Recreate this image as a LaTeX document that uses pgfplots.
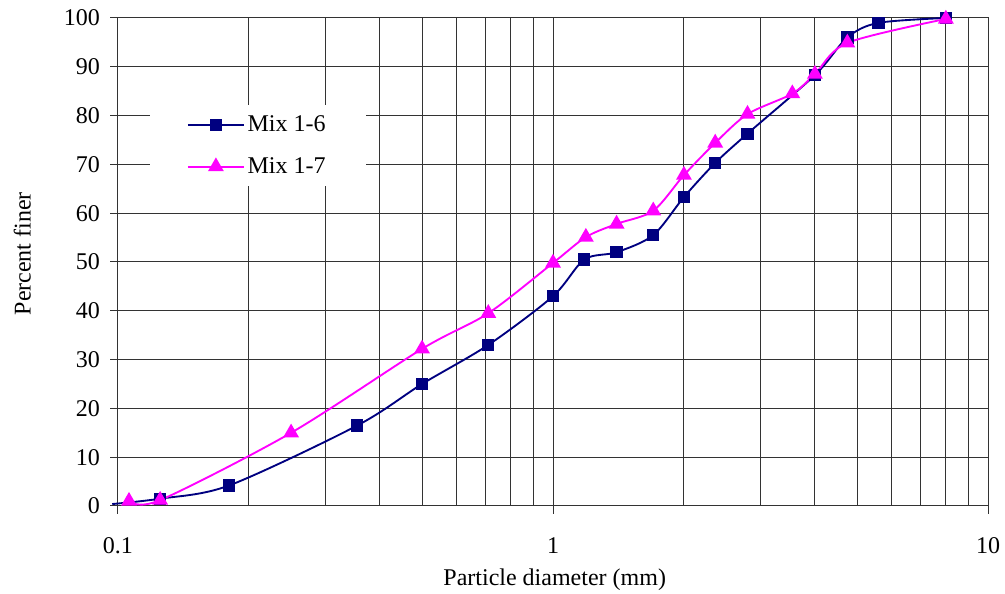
\documentclass[border=0pt]{standalone}
\usepackage{fontspec}
\setmainfont{Liberation Serif}
\usepackage{pgfplots}
\pgfplotsset{compat=1.18}
\definecolor{navyc}{HTML}{000080}
\definecolor{magc}{HTML}{FF00FF}
\begin{document}
\begin{tikzpicture}
\begin{axis}[
  scale only axis,
  width=652.5pt, height=366pt,
  xmode=log, xmin=0.1, xmax=10, ymin=0, ymax=100,
  xtick={0.1,1,10}, xticklabels={0.1,1,10},
  ytick={0,10,...,100},
  /pgf/number format/assume math mode=true,
  font=\fontsize{18}{21}\selectfont,
  tick label style={font=\fontsize{18}{21}\selectfont},
  xmajorgrids, xminorgrids, ymajorgrids,
  major grid style={black!80, line width=0.75pt},
  minor grid style={black!80, line width=0.75pt},
  axis line style={black!80, line width=0.75pt},
  tick style={black!80, line width=0.75pt},
  tick align=outside,
  major tick length=6pt, minor tick length=0pt,
  xtick pos=bottom, ytick pos=left,
  xticklabel style={yshift=-14pt},
  yticklabel style={xshift=-4pt},
  xlabel={Particle diameter (mm)},
  ylabel={Percent finer},
  xlabel style={at={(axis description cs:0.502,-0.152)}, anchor=center},
  ylabel style={at={(axis description cs:-0.110,0.517)}, anchor=center},
  clip=false,
  legend style={at={(rel axis cs:0.036,0.822)}, anchor=north west, draw=none, fill=white,
    inner xsep=28pt, inner ysep=6pt, row sep=14pt, font=\fontsize{18}{21}\selectfont},
  legend cell align=left,
  legend image code/.code={\draw[mark indices={2}] plot coordinates {(0cm,0cm)(0.74cm,0cm)(1.48cm,0cm)};},
]
\addplot[navyc, line width=1.4pt, smooth, tension=0.5, mark=square*, mark size=3.9pt,
  mark indices={2,...,17}, mark options={solid}] coordinates {
(0.097,0.4) (0.125,1.5) (0.18,4.2) (0.355,16.5) (0.5,25) (0.71,33) (1.0,43)
(1.18,50.5) (1.4,52) (1.7,55.5) (2.0,63.3) (2.36,70.3) (2.8,76.3) (4.0,88.3)
(4.75,96) (5.6,99) (8,100)};
\addlegendentry{Mix 1-6}
\addplot[magc, line width=1.4pt, smooth, tension=0.5, mark=triangle*, mark size=5.5pt,
  mark options={solid}] coordinates {
(0.106,1.0) (0.125,1.2) (0.25,15) (0.5,32.2) (0.71,39.5) (1.0,49.8) (1.19,55.1)
(1.4,57.8) (1.7,60.5) (2.0,67.8) (2.36,74.4) (2.8,80.3) (3.55,84.5) (4.0,88.5)
(4.75,94.9) (8,99.8)};
\addlegendentry{Mix 1-7}
\coordinate (SW) at (rel axis cs:0,0);
\coordinate (NE) at (rel axis cs:1,1);
\end{axis}
\pgfresetboundingbox
\useasboundingbox ([shift={(-88.5pt,-66pt)}]SW) rectangle ([shift={(12.75pt,13.5pt)}]NE);
\end{tikzpicture}
\end{document}
